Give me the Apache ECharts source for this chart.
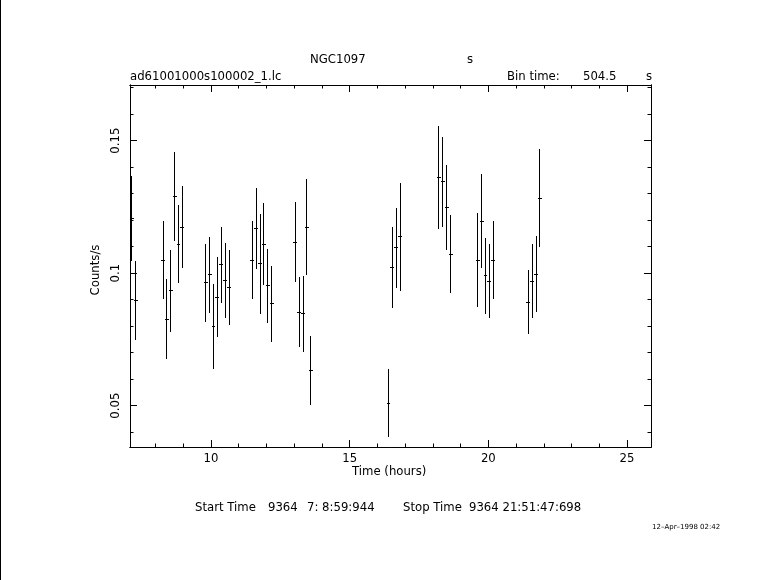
<!DOCTYPE html>
<html>
<head>
<meta charset="utf-8">
<script src="https://cdn.jsdelivr.net/npm/echarts@6/dist/echarts.min.js"></script>
<style>
html,body{margin:0;padding:0;background:#fff;}
#chart{width:781px;height:580px;}
</style>
</head>
<body>
<div id="chart"></div>
<script>
// Bin times (hours)
const times = [7.15, 7.29, 8.27, 8.41, 8.55, 8.69, 8.83, 8.97,
  9.81, 9.95, 10.09, 10.23, 10.37, 10.51, 10.65,
  11.49, 11.63, 11.77, 11.91, 12.05, 12.19,
  13.04, 13.18, 13.32, 13.46, 13.60,
  16.40, 16.54, 16.68, 16.82,
  18.22, 18.36, 18.50, 18.64,
  19.62, 19.76, 19.90, 20.04, 20.18,
  21.44, 21.58, 21.72, 21.86];
// Count rates (counts/s)
const rates = [0.1207, 0.0896, 0.1049, 0.0827, 0.0933, 0.1290, 0.1110, 0.1174,
  0.0963, 0.0994, 0.0800, 0.0910, 0.1031, 0.0971, 0.0945,
  0.1049, 0.1170, 0.1035, 0.1110, 0.0952, 0.0884,
  0.1117, 0.0853, 0.0846, 0.1174, 0.0632,
  0.0510, 0.1023, 0.1095, 0.1137,
  0.1362, 0.1344, 0.1249, 0.1072,
  0.1049, 0.1196, 0.0990, 0.0970, 0.1049,
  0.0891, 0.0970, 0.0996, 0.1283];
// 1-sigma errors (counts/s)
const errors = [0.0161, 0.0150, 0.0148, 0.0150, 0.0156, 0.0167, 0.0149, 0.0154,
  0.0148, 0.0143, 0.0160, 0.0150, 0.0145, 0.0141, 0.0141,
  0.0147, 0.0153, 0.0190, 0.0154, 0.0139, 0.0143,
  0.0150, 0.0131, 0.0143, 0.0180, 0.0131,
  0.0129, 0.0153, 0.0152, 0.0203,
  0.0195, 0.0168, 0.0160, 0.0146,
  0.0177, 0.0178, 0.0143, 0.0141, 0.0146,
  0.0120, 0.0141, 0.0143, 0.0185];
const halfBin = 0.07; // hours
const xMajorTicks = [10, 15, 20, 25];
const xMinorTicks = [8, 9, 11, 12, 13, 14, 16, 17, 18, 19, 21, 22, 23, 24];
const yMajorTicks = [0.05, 0.1, 0.15];
const yMinorTicks = [0.04, 0.06, 0.07, 0.08, 0.09, 0.11, 0.12, 0.13, 0.14, 0.16, 0.17];
const xRange = [7.079, 25.866];
const yRange = [0.0344, 0.171];

const FONT = 'DejaVu Sans';
const FS = 11.7;
const black = '#000';

function xAx(pos, ticks, len, labels) {
  return {
    type: 'value', position: pos, min: xRange[0], max: xRange[1],
    axisLine: { show: true, onZero: false, lineStyle: { color: black, width: 1 } },
    splitLine: { show: false },
    axisTick: { show: true, inside: true, length: len, customValues: ticks, lineStyle: { color: black, width: 1 } },
    axisLabel: labels ? { show: true, customValues: ticks, color: black, fontFamily: FONT, fontSize: FS, margin: 6 } : { show: false }
  };
}
function yAx(pos, ticks, len, labels) {
  return {
    type: 'value', position: pos, min: yRange[0], max: yRange[1],
    axisLine: { show: true, onZero: false, lineStyle: { color: black, width: 1 } },
    splitLine: { show: false },
    axisTick: { show: true, inside: true, length: len, customValues: ticks, lineStyle: { color: black, width: 1 } },
    axisLabel: labels ? { show: true, customValues: ticks, rotate: 90, color: black, fontFamily: FONT, fontSize: FS, margin: 8 } : { show: false }
  };
}

const data = times.map((t, i) => [t, rates[i], errors[i]]);
const snap = v => Math.round(v - 0.5) + 0.5;

const chart = echarts.init(document.getElementById('chart'), null, { renderer: 'canvas' });
const txt = (x, y, s, opts) => Object.assign({
  type: 'text', x: x, y: y,
  style: Object.assign({ text: s, fill: black, font: FS + 'px "' + FONT + '"', textVerticalAlign: 'middle' }, opts || {})
});

chart.setOption({
  animation: false,
  backgroundColor: '#fff',
  grid: { left: 130, top: 85, width: 521, height: 362, containLabel: false },
  xAxis: [
    xAx('bottom', xMajorTicks, 7, true),
    xAx('bottom', xMinorTicks, 3.5, false),
    xAx('top', xMajorTicks, 7, false),
    xAx('top', xMinorTicks, 3.5, false)
  ],
  yAxis: [
    yAx('left', yMajorTicks, 7, true),
    yAx('left', yMinorTicks, 3.5, false),
    yAx('right', yMajorTicks, 7, false),
    yAx('right', yMinorTicks, 3.5, false)
  ],
  series: [{
    type: 'custom',
    xAxisIndex: 0, yAxisIndex: 0,
    data: data,
    renderItem: function (params, api) {
      const t = api.value(0), r = api.value(1), e = api.value(2);
      const top = api.coord([t, r + e]);
      const bot = api.coord([t, r - e]);
      const l = api.coord([t - halfBin, r]);
      const rr = api.coord([t + halfBin, r]);
      const xc = snap(top[0]);
      const yc = snap(l[1]);
      return {
        type: 'group',
        children: [
          { type: 'line', shape: { x1: xc, y1: Math.round(top[1]), x2: xc, y2: Math.round(bot[1]) }, style: { stroke: black, lineWidth: 1 } },
          { type: 'line', shape: { x1: Math.round(l[0]), y1: yc, x2: Math.round(rr[0]), y2: yc }, style: { stroke: black, lineWidth: 1 } }
        ]
      };
    }
  }],
  graphic: [
    { type: 'rect', shape: { x: 0, y: 0, width: 1, height: 580 }, style: { fill: black } },
    txt(310, 60, 'NGC1097'),
    txt(467, 60, 's'),
    txt(130, 77, 'ad61001000s100002_1.lc'),
    txt(507, 77, 'Bin time:'),
    txt(583, 77, '504.5'),
    txt(646, 77, 's'),
    txt(352, 472, 'Time (hours)'),
    { type: 'text', x: 96, y: 270, rotation: Math.PI / 2,
      style: { text: 'Counts/s', fill: black, font: FS + 'px "' + FONT + '"', textAlign: 'center', textVerticalAlign: 'middle' } },
    txt(195, 508, 'Start Time'),
    txt(268, 508, '9364'),
    txt(307, 508, '7: 8:59:944'),
    txt(403, 508, 'Stop Time'),
    txt(469, 508, '9364 21:51:47:698'),
    txt(652, 527, '12\u2013Apr\u20131998 02:42', { font: '7px "' + FONT + '"' })
  ]
});
</script>
</body>
</html>
